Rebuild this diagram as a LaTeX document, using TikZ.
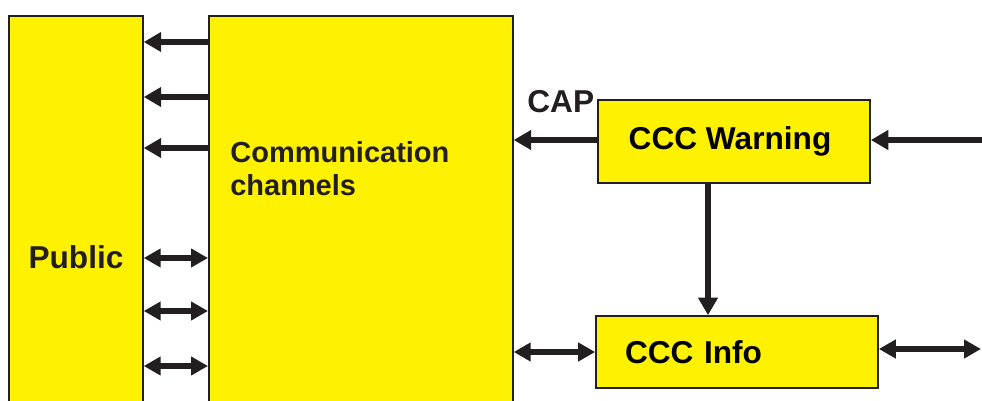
\documentclass[tikz,border=0pt]{standalone}
\usepackage{fontspec}
\setmainfont{Liberation Sans}
\usepackage{xcolor}
\usetikzlibrary{calc, arrows.meta, positioning}

\definecolor{boxyellow}{HTML}{FFF200}
\definecolor{ink}{HTML}{231F20}

\begin{document}
\begin{tikzpicture}[x=0.02cm, y=-0.02cm, font=\bfseries\fontsize{18}{21}\selectfont]
	\tikzstyle{block} = [draw=ink, fill=boxyellow, line width=1pt, rectangle, inner sep=0pt]
	\tikzstyle{txt} = [draw=none, inner sep=0pt, text=ink]
	\tikzstyle{arr} = [draw=ink, line width=3.2pt, -{Triangle[length=0.35cm, width=0.38cm]}]
	\tikzstyle{darr} = [draw=ink, line width=3pt, {Triangle[length=0.34cm, width=0.36cm]}-{Triangle[length=0.34cm, width=0.36cm]}]

	\useasboundingbox (0, 0) rectangle (982, 401);
	\clip (0, 0) rectangle (982, 401);

	\node[block, anchor=north west, minimum width=2.68cm, minimum height=8.1cm]	at (8, 15)		(public)	{};
	\node[block, anchor=north west, minimum width=6.08cm, minimum height=8.1cm]	at (208, 15)	(comm)		{};
	\node[block, minimum width=5.44cm, minimum height=1.66cm]						at (734, 141.5)	(warn)		{\hspace*{-0.16cm}CCC Warning};
	\node[block, minimum width=5.64cm, minimum height=1.44cm, inner xsep=0.58cm, text width=4.48cm, align=left]	at (737, 352)	(info)	{CCC Info};
	\node[txt]										at (76, 257)	(publictxt)	{Public};
	\node[txt, anchor=west, align=left, font=\bfseries\fontsize{16.5}{18.8}\selectfont]	at (230, 169)	(commtxt)	{Communication\\channels};
	\node[txt, anchor=south west]					at (527, 113)	(cap)		{CAP};
	\coordinate										(feedin)	at (982, 140);
	\coordinate										(feedout)	at (981, 349);

	% one-way channels to the public
	\foreach \y in {42, 97, 148}
		\draw[arr] (comm.west |- 0,\y) -- (public.east |- 0,\y);
	% two-way channels
	\foreach \y in {258, 311, 366}
		\draw[darr] (comm.west |- 0,\y) -- (public.east |- 0,\y);

	\draw[arr]	(warn.west |- 0,140)	-- (comm.east |- 0,140);
	\draw[arr]	(feedin)				-- (warn.east |- feedin);
	\draw[arr]	(warn.south -| 708,0)	-- (info.north -| 708,0);
	\draw[darr]	(comm.east |- 0,352)	-- (info.west |- 0,352);
	\draw[darr]	(info.east |- feedout)	-- (feedout);
\end{tikzpicture}
\end{document}
